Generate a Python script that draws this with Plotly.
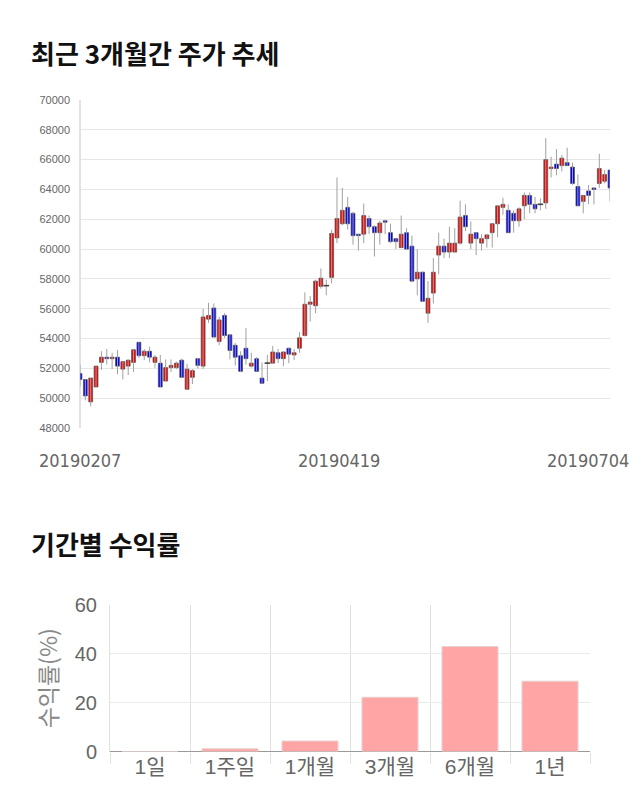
import plotly.graph_objects as go

# ---- Candle data (trading days, index order) ----
OPEN = [51650, 51250, 49750, 50750, 52400, 52750, 52650, 52750, 51950, 52150,
        52400, 53750, 52850, 53150, 52400, 52350, 51150, 52050, 52050, 52550,
        50600, 51400, 52650, 52150, 55300, 56050, 53800, 55550, 54250, 53550,
        52850, 53350, 52150, 52650, 51350, 52350, 52350, 53050, 52650, 53350,
        52900, 53350, 54200, 56300, 56200, 57500, 57550, 58100, 60750, 61700,
        62800, 62400, 61000, 61000, 62050, 61500, 61100, 61900, 61100, 60700,
        60100, 61100, 60200, 58000, 58450, 55700, 57050, 59600, 60200, 59800,
        59800, 60400, 62250, 60400, 61100, 60400, 60700, 61100, 61700, 62800,
        62600, 62400, 61900, 62900, 63600, 63000, 63000, 63100, 65400, 65700,
        65600, 65800, 65500, 64200, 63200, 63900, 64100, 64400, 64550, 65300]
HIGH = [52250, 51250, 51350, 52200, 53150, 53300, 53050, 53250, 52450, 52600,
        53250, 53750, 53300, 53450, 52900, 52900, 52600, 52600, 52450, 52650,
        52300, 51950, 52700, 56000, 56400, 56350, 55450, 55700, 54250, 53700,
        53150, 54700, 53050, 52750, 52400, 52900, 53500, 53300, 53100, 53400,
        53300, 54450, 57100, 56850, 57950, 58700, 57950, 61300, 64800, 64100,
        63500, 62500, 61000, 63050, 62250, 61600, 61900, 61900, 61700, 60700,
        62250, 61400, 60900, 60000, 58500, 57850, 59400, 61100, 60700, 61500,
        61400, 63250, 63000, 61850, 61100, 61000, 61000, 61700, 62900, 63450,
        63000, 62600, 62800, 63800, 63800, 63500, 63400, 67450, 66200, 66700,
        66300, 66800, 65800, 65000, 63600, 64300, 64100, 66400, 65300, 65300]
LOW = [50800, 49850, 49450, 50750, 51900, 52250, 51950, 51600, 51250, 51550,
       51750, 52700, 52550, 52400, 52050, 50750, 51150, 51750, 51950, 51400,
       50600, 50950, 52000, 51950, 55050, 54100, 53550, 54050, 52600, 52200,
       51750, 52250, 52050, 51800, 51000, 51150, 52350, 52350, 52150, 52350,
       52550, 53050, 54150, 55150, 55700, 57350, 56900, 57700, 60400, 61600,
       61300, 60300, 59900, 60400, 61000, 59500, 60300, 61000, 60400, 60000,
       60100, 60000, 57850, 56900, 56500, 55050, 56350, 58300, 59400, 59400,
       59800, 60300, 61200, 60000, 59600, 59900, 60100, 60100, 60800, 62300,
       61100, 61100, 61500, 62000, 62400, 62400, 62600, 62700, 64800, 64950,
       65200, 65600, 64300, 62900, 62400, 63000, 63000, 64100, 64400, 63200]
CLOSE = [51250, 50150, 51350, 52150, 52750, 52650, 52750, 52150, 52450, 52550,
         53250, 52850, 53150, 52750, 52750, 50750, 52050, 52200, 52350, 51400,
         51950, 51850, 52200, 55450, 55550, 54100, 55250, 54200, 53200, 52750,
         51800, 52650, 52350, 51800, 51000, 52350, 53100, 52650, 53100, 52950,
         53050, 54050, 56300, 56450, 57850, 58050, 57550, 61050, 62050, 62600,
         61700, 60900, 60900, 62250, 61500, 61100, 61750, 61800, 60500, 60500,
         61000, 60000, 57850, 58450, 56500, 56700, 58450, 60200, 59800, 60400,
         60400, 62150, 61500, 61000, 60700, 60700, 60950, 61700, 62900, 63000,
         61100, 61900, 62700, 63600, 63000, 62700, 63000, 66000, 65500, 65400,
         66100, 65600, 64400, 62900, 63600, 63600, 64000, 65400, 65000, 64100]
DATE_LABELS = ["20190207", "20190419", "20190704"]
DATE_LABEL_IDX = [0, 48.4, 99]
Y_TICKS = list(range(48000, 70001, 2000))

# ---- Return bar data ----
PERIODS = ["1일", "1주일", "1개월", "3개월", "6개월", "1년"]
RETURNS = [0.0, 1.1, 4.3, 22.2, 43.0, 28.8]

W, H = 640, 810
def px_x(p): return p / W
def px_y(p): return 1 - p / H

idx = list(range(len(OPEN)))
UP, DOWN = "#ff0000", "#0000ff"

wx, wy = [], []
for i in idx:
    wx += [i, i, None]
    wy += [LOW[i], HIGH[i], None]

body_base = [min(o, c) for o, c in zip(OPEN, CLOSE)]
body_len = [abs(c - o) for o, c in zip(OPEN, CLOSE)]
body_col = [UP if c > o else DOWN for o, c in zip(OPEN, CLOSE)]
doji_x = [i for i in idx if OPEN[i] == CLOSE[i]]
doji_y = [CLOSE[i] for i in doji_x]

fig = go.Figure()
fig.add_trace(go.Scatter(x=wx, y=wy, mode="lines", line=dict(color="#a0a0a0", width=1),
                         hoverinfo="skip", showlegend=False, xaxis="x", yaxis="y"))
fig.add_trace(go.Bar(x=idx, y=body_len, base=body_base, width=0.72,
                     marker=dict(color=body_col, line=dict(color="#4a4a4a", width=0.7)),
                     showlegend=False, xaxis="x", yaxis="y"))
fig.add_trace(go.Scatter(x=doji_x, y=doji_y, mode="markers",
                         marker=dict(symbol="line-ew", size=4, line=dict(color="#444", width=1.5)),
                         showlegend=False, xaxis="x", yaxis="y"))

fig.add_trace(go.Bar(x=PERIODS, y=RETURNS, width=0.7,
                     marker=dict(color="#ffa5a5", line=dict(color="#e6d0d0", width=1)),
                     showlegend=False, xaxis="x2", yaxis="y2"))

tick_font = dict(family="Liberation Sans, Noto Sans CJK KR, sans-serif", color="#666666")

annotations = [
    dict(text="<b>최근 3개월간 주가 추세</b>", xref="paper", yref="paper", x=px_x(29), y=px_y(52),
         xanchor="left", yanchor="middle", showarrow=False,
         font=dict(family="Noto Sans CJK KR", size=26, color="#111111")),
    dict(text="<b>기간별 수익률</b>", xref="paper", yref="paper", x=px_x(29), y=px_y(543),
         xanchor="left", yanchor="middle", showarrow=False,
         font=dict(family="Noto Sans CJK KR", size=26, color="#111111")),
]
label_font = dict(family="Liberation Sans Narrow, DejaVu Sans Condensed, Liberation Sans, sans-serif",
                  size=18, color="#666666")
for k, (lab, pos) in enumerate(zip(DATE_LABELS, DATE_LABEL_IDX)):
    if k == len(DATE_LABELS) - 1:
        annotations.append(dict(text=lab, xref="paper", yref="paper", x=px_x(631), y=px_y(460),
                                xanchor="right", yanchor="middle", showarrow=False, font=label_font))
    else:
        annotations.append(dict(text=lab, xref="x", yref="paper", x=pos, y=px_y(460),
                                xanchor="center", yanchor="middle", showarrow=False, font=label_font))

fig.update_layout(
    width=W, height=H, margin=dict(l=0, r=0, t=0, b=0, pad=0, autoexpand=False),
    paper_bgcolor="white", plot_bgcolor="white",
    showlegend=False,
    xaxis=dict(domain=[px_x(80), px_x(610)], range=[0, 99], showticklabels=False,
               showgrid=False, zeroline=True, zerolinecolor="#e2e2e2", zerolinewidth=2,
               showline=False, anchor="y", fixedrange=True, automargin=False),
    yaxis=dict(domain=[px_y(428), px_y(100)], range=[48000, 70000], tickvals=Y_TICKS,
               tickformat="d",
               tickfont=dict(size=11, **tick_font), showgrid=True, gridcolor="#e6e6e6",
               zeroline=False, showline=False,
               ticklabelstandoff=9, anchor="x", automargin=False),
    xaxis2=dict(domain=[px_x(110), px_x(590)], anchor="y2", type="category",
                tickson="boundaries", ticks="outside", ticklen=11, tickcolor="#e0e0e0",
                showgrid=True, gridcolor="#e0e0e0", showline=False, automargin=False,
                tickfont=dict(size=21, **tick_font)),
    yaxis2=dict(domain=[px_y(751.5), px_y(605)], anchor="x2", range=[0, 60],
                tickvals=[0, 20, 40, 60], showgrid=True, gridcolor="#ebebeb",
                zeroline=True, zerolinecolor="#999999", zerolinewidth=1,
                showline=True, linecolor="#e0e0e0", linewidth=1, automargin=False,
                tickfont=dict(size=20, **tick_font), ticklabelstandoff=8,
                title=dict(text="수익률(%)", standoff=10,
                           font=dict(family="Noto Sans CJK KR", size=23, color="#888888"))),
    annotations=annotations,
)

fig.write_html("out.html")
